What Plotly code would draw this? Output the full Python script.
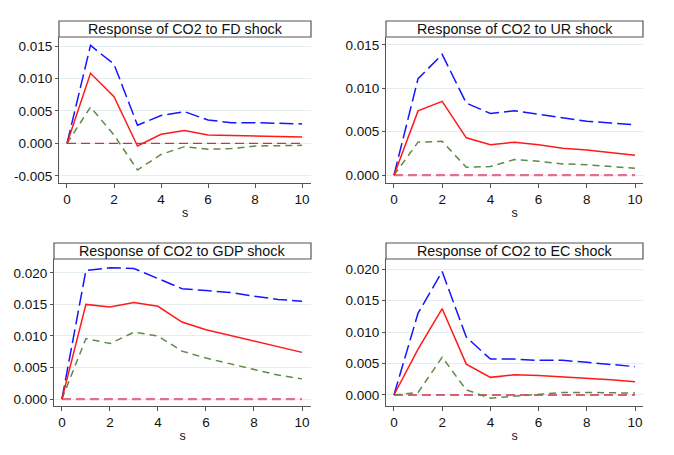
import plotly.graph_objects as go

steps = list(range(11))

titles = ["Response of CO2 to FD shock", "Response of CO2 to UR shock",
          "Response of CO2 to GDP shock", "Response of CO2 to EC shock"]

fd_upper = [0, 0.0151, 0.0122, 0.0028, 0.0043, 0.0049, 0.0036, 0.0032, 0.0032, 0.0031, 0.0030]
fd_irf   = [0, 0.0108, 0.0072, -0.0004, 0.0014, 0.0020, 0.0013, 0.0012, 0.0012, 0.0011, 0.0010]
fd_lower = [0, 0.0056, 0.0013, -0.0041, -0.0017, -0.0005, -0.0009, -0.0008, -0.0004, -0.0003, -0.0003]

ur_upper = [0, 0.0111, 0.0139, 0.0083, 0.0071, 0.0074, 0.0070, 0.0066, 0.0062, 0.0060, 0.0058]
ur_irf   = [0, 0.0074, 0.0085, 0.0043, 0.0035, 0.0038, 0.0035, 0.0031, 0.0029, 0.0026, 0.0023]
ur_lower = [0, 0.0038, 0.0039, 0.0009, 0.0010, 0.0018, 0.0016, 0.0013, 0.0012, 0.0010, 0.0008]

gdp_upper = [0, 0.0204, 0.0208, 0.0207, 0.0191, 0.0175, 0.0172, 0.0169, 0.0163, 0.0158, 0.0155]
gdp_irf   = [0, 0.0150, 0.0146, 0.0153, 0.0147, 0.0122, 0.0110, 0.0101, 0.0091, 0.0082, 0.0074]
gdp_lower = [0, 0.0096, 0.0088, 0.0106, 0.0100, 0.0076, 0.0065, 0.0056, 0.0046, 0.0038, 0.0032]

ec_upper = [0, 0.0130, 0.0196, 0.0092, 0.0057, 0.0057, 0.0055, 0.0055, 0.0052, 0.0049, 0.0045]
ec_irf   = [0, 0.0073, 0.0137, 0.0049, 0.0028, 0.0032, 0.0031, 0.0029, 0.0027, 0.0024, 0.0021]
ec_lower = [0, 0.0004, 0.0060, 0.0008, -0.0005, -0.0002, 0.0001, 0.0004, 0.0004, 0.0003, 0.0003]

y_ticks = [
    [-0.005, 0.0, 0.005, 0.010, 0.015],
    [0.0, 0.005, 0.010, 0.015],
    [0.0, 0.005, 0.010, 0.015, 0.020],
    [0.0, 0.005, 0.010, 0.015, 0.020],
]
x_ticks = [0, 2, 4, 6, 8, 10]

series = [
    (fd_upper, fd_irf, fd_lower),
    (ur_upper, ur_irf, ur_lower),
    (gdp_upper, gdp_irf, gdp_lower),
    (ec_upper, ec_irf, ec_lower),
]

W, H = 674, 455
OFF = 8  # page body margin offset
# plot areas in reference pixels: (left, right, top, bottom)
boxes = [(59, 311, 37, 183), (386, 643, 37, 183), (54, 311, 259, 406), (386, 643, 259, 406)]
title_tops = [21, 21, 243, 243]
y_ranges = [(-0.0061, 0.0164), (-0.0009, 0.0159), (-0.0011, 0.0222), (-0.00175, 0.0216)]
x_ranges = [(-0.34, 10.38), (-0.33, 10.33), (-0.33, 10.375), (-0.33, 10.33)]
zero_styles = [("#D42C4C", 1.3), ("#E0708E", 2.2), ("#E0708E", 2.2), ("#D42C4C", 1.3)]

FONT = "Liberation Sans, Arial, sans-serif"

fig = go.Figure()
shapes = []
annotations = []

for i in range(4):
    n = "" if i == 0 else str(i + 1)
    xa, ya = "x" + n, "y" + n
    up, irf, lo = series[i]
    zc, zw = zero_styles[i]
    fig.add_trace(go.Scatter(x=steps, y=[0] * len(steps), mode="lines", xaxis=xa, yaxis=ya,
                             line=dict(color=zc, width=zw, dash="9px,5px"), showlegend=False))
    fig.add_trace(go.Scatter(x=steps, y=lo, mode="lines", xaxis=xa, yaxis=ya,
                             line=dict(color="#5F8A45", width=1.5, dash="7px,5px"), showlegend=False))
    fig.add_trace(go.Scatter(x=steps, y=up, mode="lines", xaxis=xa, yaxis=ya,
                             line=dict(color="#1515FF", width=1.5, dash="14px,5px"), showlegend=False))
    fig.add_trace(go.Scatter(x=steps, y=irf, mode="lines", xaxis=xa, yaxis=ya,
                             line=dict(color="#FF1A1A", width=1.5), showlegend=False))

    l, r, t, b = [v - OFF for v in boxes[i]]
    dom_x = [l / W, r / W]
    dom_y = [1 - b / H, 1 - t / H]
    fig.layout["xaxis" + n] = dict(
        domain=dom_x, range=list(x_ranges[i]), anchor=ya,
        tickvals=x_ticks, ticktext=[str(v) for v in x_ticks],
        ticks="outside", ticklen=4, tickcolor="#555555",
        showline=True, linecolor="#555555", linewidth=1.2,
        showgrid=False, zeroline=False,
        tickfont=dict(family=FONT, size=13.5, color="#111111"),
        title=dict(text="s", font=dict(family=FONT, size=12.5, color="#111111"), standoff=1),
    )
    fig.layout["yaxis" + n] = dict(
        domain=dom_y, range=list(y_ranges[i]), anchor=xa,
        tickvals=y_ticks[i], ticktext=["%.3f" % v for v in y_ticks[i]],
        ticks="outside", ticklen=3, tickcolor="#555555",
        showline=True, linecolor="#555555", linewidth=1.2,
        showgrid=True, gridcolor="#E4EEF0", gridwidth=1, zeroline=False,
        tickfont=dict(family=FONT, size=13.5, color="#111111"),
    )
    tt = title_tops[i] - OFF
    shapes.append(dict(type="rect", xref="paper", yref="paper",
                       x0=l / W, x1=r / W, y0=1 - t / H, y1=1 - tt / H,
                       line=dict(color="#555555", width=1.2), fillcolor="white"))
    annotations.append(dict(text=titles[i], xref="paper", yref="paper",
                            x=(l + r) / 2 / W, y=1 - (t + tt) / 2 / H,
                            xanchor="center", yanchor="middle", showarrow=False,
                            font=dict(family=FONT, size=14.3, color="#111111")))

fig.update_layout(
    width=W, height=H,
    margin=dict(l=0, r=0, t=0, b=0),
    paper_bgcolor="white", plot_bgcolor="white",
    shapes=shapes, annotations=annotations,
    showlegend=False,
)

fig.write_html("out.html")
